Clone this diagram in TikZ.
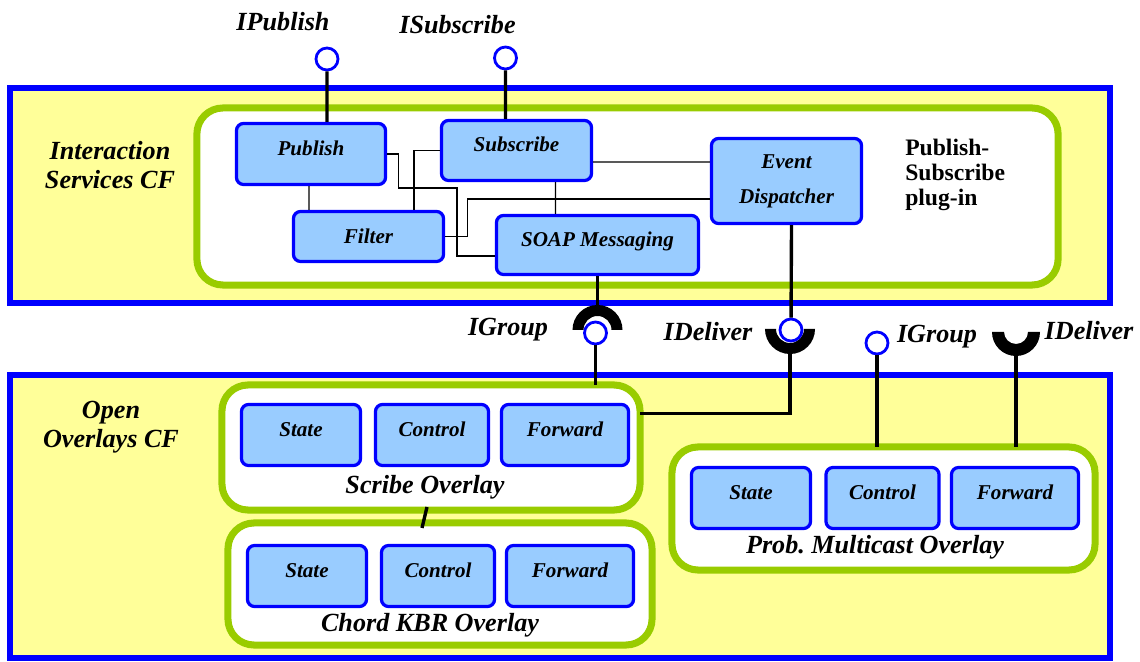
\documentclass[tikz,border=0pt]{standalone}
\usepackage{fontspec}
\setmainfont{Liberation Serif}
\usetikzlibrary{positioning}

\definecolor{cfyellow}{HTML}{FFFF99}
\definecolor{plugingreen}{HTML}{99CC00}
\definecolor{compblue}{HTML}{99CCFF}

\begin{document}
\begin{tikzpicture}[
    x=0.025cm, y=-0.025cm,
    cf/.style={draw=blue, fill=cfyellow, line width=4.2pt},
    pluginbox/.style={draw=plugingreen, fill=white, line width=5pt, rounded corners=0.65cm, inner sep=0pt, outer sep=0pt},
    comp/.style={rectangle, draw=blue, fill=compblue, line width=2.3pt, rounded corners=5pt, inner sep=0pt, minimum height=1.525cm, align=center, font=\fontsize{15}{24.8}\selectfont\bfseries\itshape},
    raised/.style={text depth=8.5pt},
    lbl/.style={font=\fontsize{18.6}{20.5}\selectfont\bfseries\itshape, inner sep=0pt, align=center},
    iface/.style={circle, draw=blue, fill=white, line width=2pt, minimum size=0.55cm, inner sep=0pt},
    link/.style={line width=0.9pt},
    wire/.style={line width=2.4pt}
]
\useasboundingbox (0,0) rectangle (1140,662);

% Component frameworks
\draw[cf] (10,88) rectangle (1110,303);
\draw[cf] (10,375) rectangle (1110,658);
\node[lbl] (iscf) at (110,165) {Interaction\\Services CF};
\node[lbl] (oocf) at (111,427) {Open\\Overlays CF};

% Publish-Subscribe plug-in
\node[pluginbox, minimum width=21.525cm, minimum height=4.425cm] (plugin) at (627.5,196.5) {};
\node[anchor=west, align=left, inner sep=0pt, font=\fontsize{16.8}{18}\selectfont\bfseries] (plugintxt) at (905,175) {Publish-\\Subscribe\\plug-in};

\node[comp, raised, minimum width=3.725cm] (pub) at (311,154) {Publish};
\node[comp, raised, minimum width=3.75cm, minimum height=1.5cm] (sub) at (516.5,150.5) {Subscribe};
\node[comp, minimum width=3.75cm, minimum height=2.125cm] (evd) at (786.5,181) {Event\\Dispatcher};
\node[comp, minimum width=3.75cm, minimum height=1.25cm] (filt) at (368.5,236.5) {Filter};
\node[comp, raised, minimum width=5.05cm, minimum height=1.475cm] (soap) at (597.5,245) {SOAP Messaging};

% Internal bindings
\draw[link] (pub.east) -- ++(11,0) |- (457,188) |- ([yshift=-0.275cm]soap.west);
\draw[link] (sub.west) -| ([xshift=1.14cm]filt.north);
\draw[link] ([yshift=-0.29cm]sub.east) -- ([yshift=0.475cm]evd.west);
\draw[link] ([xshift=0.975cm]sub.south) -- ([xshift=-1.05cm]soap.north);
\draw[link] (filt.east) -- ++(22.5,0) |- ([yshift=-0.45cm]evd.west);
\draw[link] ([xshift=-0.05cm]pub.south) -- ([xshift=-1.49cm]filt.north);

% Overlays
\node[pluginbox, minimum width=10.45cm, minimum height=3.125cm] (scribe) at (431,447.5) {};
\node[pluginbox, minimum width=10.6cm, minimum height=3.05cm] (chord) at (440,584) {};
\node[pluginbox, minimum width=10.575cm, minimum height=3.075cm] (prob) at (883.5,508.5) {};

\node[comp, raised, minimum width=2.975cm] (sstate) at (301,435) {State};
\node[comp, raised, minimum width=2.825cm] (scontrol) at (432,435) {Control};
\node[comp, raised, minimum width=3.175cm] (sforward) at (565,435) {Forward};
\node[lbl] (scribelbl) at (425,487) {Scribe Overlay};

\node[comp, raised, minimum width=2.975cm] (cstate) at (307,576) {State};
\node[comp, raised, minimum width=2.825cm] (ccontrol) at (438,576) {Control};
\node[comp, raised, minimum width=3.175cm] (cforward) at (570,576) {Forward};
\node[lbl] (chordlbl) at (430,625) {Chord KBR Overlay};

\node[comp, raised, minimum width=2.975cm] (pstate) at (751,498) {State};
\node[comp, raised, minimum width=2.825cm] (pcontrol) at (882.5,498) {Control};
\node[comp, raised, minimum width=3.175cm] (pforward) at (1015,498) {Forward};
\node[lbl] (problbl) at (875,547) {Prob.\ Multicast Overlay};

\draw[wire] ([xshift=-0.1cm, yshift=0.075cm]scribe.south) -- ([xshift=-0.45cm, yshift=-0.125cm]chord.north);

% Interfaces and receptacles
\node[iface] (ipub) at (327,59) {};
\node[lbl] (ipublbl) at (283,22) {IPublish};
\draw[wire] ([xshift=0.4cm]pub.north) -- (ipub);

\node[iface] (isub) at (505.5,58) {};
\node[lbl] (isublbl) at (457.5,25) {ISubscribe};
\draw[wire] ([xshift=-0.275cm]sub.north) -- (isub);

\coordinate (igr) at (597.5,330);
\fill (igr) ++(-0.625cm,0) arc[start angle=180, end angle=0, radius=0.625cm] -- ++(-0.275cm,0) arc[start angle=0, end angle=180, radius=0.35cm] -- cycle;
\draw[wire] (soap.south) -- ([yshift=0.625cm]igr);
\node[iface] (igc) at (595.5,333) {};
\draw[wire] (igc) -- (igc |- scribe.north);
\node[lbl] (igclbl) at (508,330) {IGroup};

\coordinate (idr) at (790,329);
\fill (idr) ++(-0.625cm,0) arc[start angle=180, end angle=360, radius=0.625cm] -- ++(-0.275cm,0) arc[start angle=360, end angle=180, radius=0.35cm] -- cycle;
\node[iface] (idc) at (791,330) {};
\draw[wire] ([xshift=0.125cm]evd.south) -- (idc);
\draw[wire] ([yshift=-0.625cm]idr) |- ([yshift=0.85cm]scribe.east);
\node[lbl] (idclbl) at (708,332) {IDeliver};

\node[iface] (igc2) at (877,343) {};
\draw[wire] (igc2) -- (igc2 |- prob.north);
\node[lbl] (igc2lbl) at (937,337) {IGroup};

\coordinate (idr2) at (1016,332);
\fill (idr2) ++(-0.6cm,0) arc[start angle=180, end angle=360, radius=0.6cm] -- ++(-0.3cm,0) arc[start angle=360, end angle=180, radius=0.3cm] -- cycle;
\draw[wire] ([yshift=-0.6cm]idr2) -- (idr2 |- prob.north);
\node[lbl] (idr2lbl) at (1089,331) {IDeliver};

\end{tikzpicture}
\end{document}
